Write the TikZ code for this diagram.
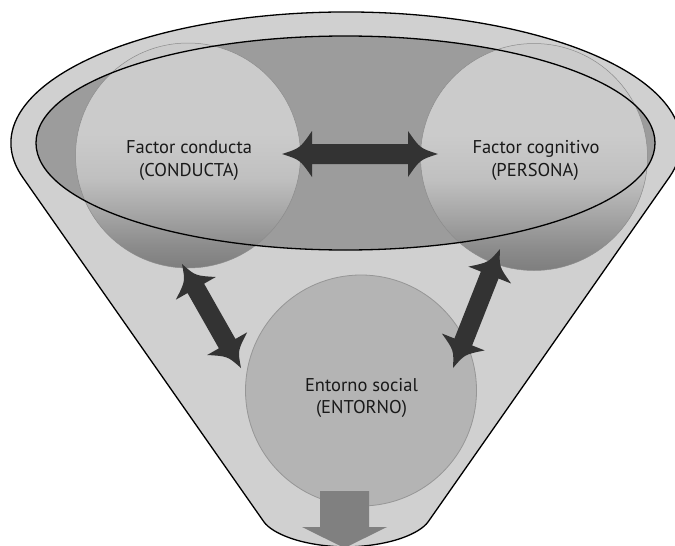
\documentclass[tikz,border=0pt]{standalone}
\usepackage{fontspec}
\setmainfont{PT Sans}
\usetikzlibrary{calc}
\definecolor{funnelfill}{HTML}{D0D0D0}
\definecolor{ellfill}{HTML}{9C9C9C}
\definecolor{arrowdark}{HTML}{333333}
\definecolor{outarrow}{HTML}{808080}
\definecolor{envfill}{HTML}{B4B4B4}
\definecolor{envline}{HTML}{969696}
\definecolor{bdark}{HTML}{7E7E7E}
\definecolor{bdtwo}{HTML}{8C8C8C}
\definecolor{bdthree}{HTML}{A5A5A5}
\definecolor{bdfour}{HTML}{C0C0C0}
\definecolor{blight}{HTML}{CBCBCB}
\pgfdeclareverticalshading{ballshade}{100bp}{color(0bp)=(bdark); color(25bp)=(bdark); color(30bp)=(bdtwo); color(37bp)=(bdthree); color(45bp)=(bdfour); color(55bp)=(blight); color(100bp)=(blight)}
% double block arrow between two named points: #3 head length, #4 head half width, #5 shaft half width
\newcommand\dblarrow[5]{%
  \fill[arrowdark] (#1)
    .. controls ($(#1)!0.6*#3!(#2)!0.25*#4!90:(#2)$) .. ($(#1)!#3!(#2)!#4!90:(#2)$)
    -- ($(#1)!#3!(#2)!#5!90:(#2)$)
    -- ($(#2)!#3!(#1)!#5!-90:(#1)$)
    -- ($(#2)!#3!(#1)!#4!-90:(#1)$)
    .. controls ($(#2)!0.6*#3!(#1)!0.25*#4!-90:(#1)$) .. (#2)
    .. controls ($(#2)!0.6*#3!(#1)!0.25*#4!90:(#1)$) .. ($(#2)!#3!(#1)!#4!90:(#1)$)
    -- ($(#2)!#3!(#1)!#5!90:(#1)$)
    -- ($(#1)!#3!(#2)!#5!-90:(#2)$)
    -- ($(#1)!#3!(#2)!#4!-90:(#2)$)
    .. controls ($(#1)!0.6*#3!(#2)!0.25*#4!-90:(#2)$) .. (#1) -- cycle;}
\begin{document}
\begin{tikzpicture}[x=1pt,y=-1pt,
  ball/.style={circle, inner sep=0pt, shade, shading=ballshade, draw=black!45, line width=0.5pt},
  envball/.style={circle, inner sep=0pt, fill=envfill, draw=envline, line width=0.8pt},
  lbl/.style={font=\fontsize{18.5}{22}\selectfont, text=black!90, inner sep=0pt, anchor=base}]
\useasboundingbox (0,0) rectangle (675,546);
\begin{scope}
\clip (0,0) rectangle (675,546);
% funnel
\filldraw[fill=funnelfill, draw=black, line width=1.3pt]
  (264,522) -- (22.4,176.9)
  arc[start angle=195, end angle=-15, x radius=335pt, y radius=131pt]
  -- (428,522) .. controls (420,533) and (392,546) .. (346,547)
  .. controls (300,546) and (272,533) .. (264,522) -- cycle;
% inner ellipse fill
\fill[ellfill] (345.5,143) ellipse[x radius=309.5pt, y radius=107pt];
% circles
\node[envball, minimum size=231pt] (entorno) at (361,390.5) {};
\node[ball, minimum size=225pt] (conducta) at (188,155.5) {};
\node[ball, minimum size=227pt] (persona) at (534,157) {};
% inner ellipse outline
\draw[line width=1.3pt] (345.5,143) ellipse[x radius=309.5pt, y radius=107pt];
% arrows
\coordinate (hA) at (282,154);
\coordinate (hB) at (438,154);
\coordinate (lA) at (182,264);
\coordinate (lB) at (241,368);
\coordinate (rA) at (500,249);
\coordinate (rB) at (453,368);
\dblarrow{hA}{hB}{30pt}{23pt}{10pt}
\dblarrow{lA}{lB}{28pt}{23pt}{9.5pt}
\dblarrow{rA}{rB}{28pt}{23pt}{9.5pt}
% output arrow
\fill[outarrow] (320,491) -- (369,491) -- (369,527) -- (387,527) -- (344.5,548) -- (302,527) -- (320,527) -- cycle;
% labels
\node[lbl] (t1a) at (189,153) {Factor conducta};
\node[lbl] (t1b) at (189,176) {(CONDUCTA)};
\node[lbl] (t2a) at (536,153) {Factor cognitivo};
\node[lbl] (t2b) at (535,176) {(PERSONA)};
\node[lbl] (t3a) at (361.5,391.5) {Entorno social};
\node[lbl] (t3b) at (361.5,413) {(ENTORNO)};
\end{scope}
\end{tikzpicture}
\end{document}
